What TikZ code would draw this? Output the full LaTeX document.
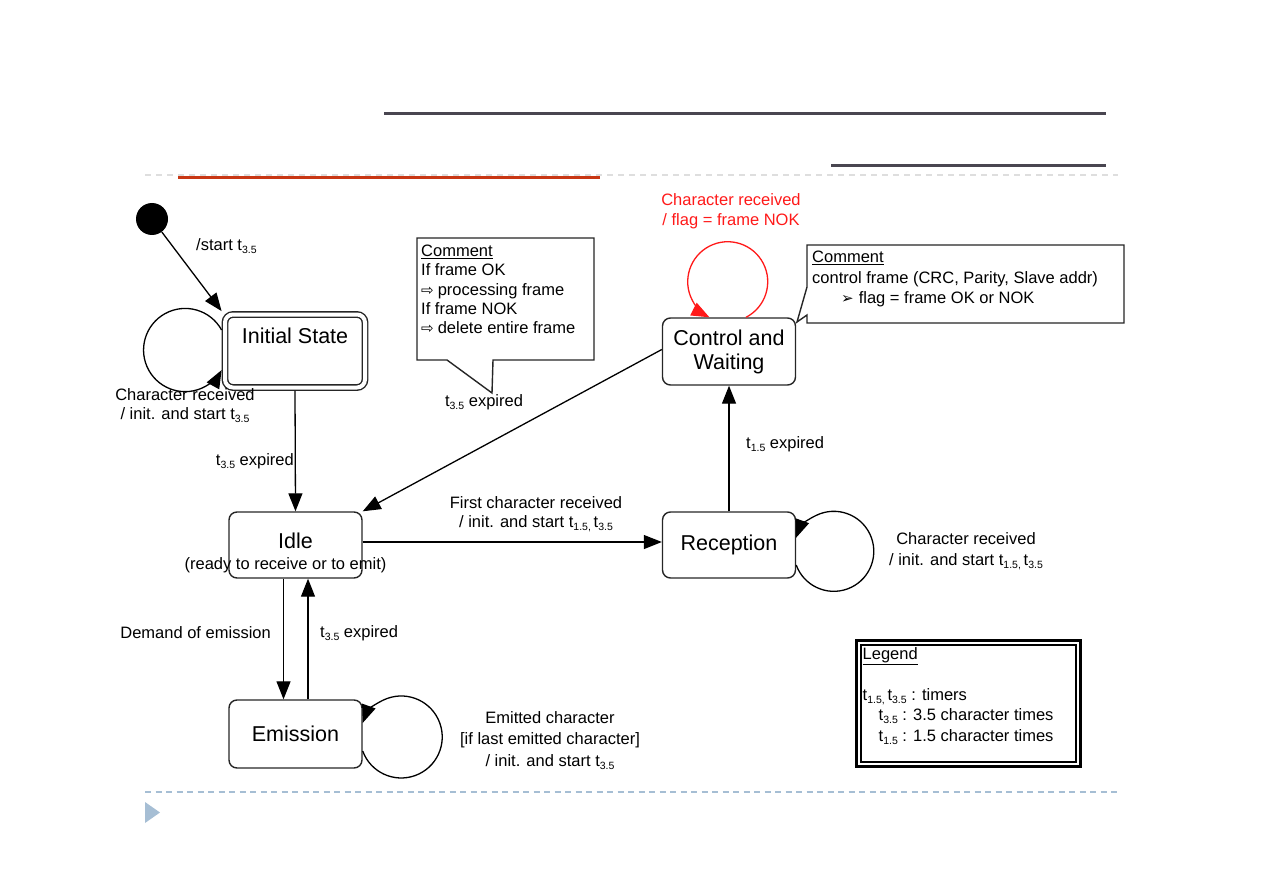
\documentclass[tikz,border=0pt]{standalone}
\usepackage{fontspec}
\setmainfont{Liberation Sans}
\newfontfamily\symb{DejaVu Sans}
\usetikzlibrary{arrows.meta}
\newcommand{\tsub}[1]{t\raisebox{-0.35ex}{\fontsize{10.5}{10.5}\selectfont #1}}
\definecolor{barre}{RGB}{73,70,80}
\definecolor{rouille}{RGB}{200,55,20}
\definecolor{gristrait}{RGB}{222,222,222}
\definecolor{bleupale}{RGB}{166,190,212}
\definecolor{rougevif}{RGB}{255,25,25}
\begin{document}
\begin{tikzpicture}[x=1pt,y=-1pt]
	% Styles des etats et des transitions
	\tikzset{
		etat/.style={draw=black!85, rounded corners=8pt, line width=1.4pt, minimum width=133pt, minimum height=66pt, inner sep=0pt, align=center, font=\fontsize{21.5}{24}\selectfont},
		trans/.style={line width=1.3pt, -{Triangle[length=18pt,width=14pt]}},
		lbl/.style={inner sep=0pt, align=center, font=\fontsize{16.5}{20}\selectfont},
		note/.style={draw=black!85, line width=1.4pt, fill=white, line join=miter}
	}
	\useasboundingbox (0,0) rectangle (1263,893);
	% Bandeau de la diapositive
	\draw[barre, line width=3pt] (384,114) -- (1106,114);
	\draw[barre, line width=3pt] (831,166) -- (1106,166);
	\draw[gristrait, line width=1.5pt, dash pattern=on 6pt off 5pt] (145,175) -- (1118,175);
	\draw[rouille, line width=2.5pt] (178,177.5) -- (600,177.5);
	\draw[bleupale, line width=1.5pt, dash pattern=on 6pt off 4.5pt] (145,792) -- (1118,792);
	\fill[bleupale] (145,802) -- (160,812.5) -- (145,823) -- cycle;
	% Etats
	\node[circle, fill=black, minimum size=32pt, inner sep=0pt] (debut) at (152,219) {};
	\node[etat, double, double distance=4pt, minimum width=140pt, minimum height=73pt, outer sep=3.4pt, text height=16pt, text depth=31pt] (init) at (295,351) {Initial State};
	\node[etat, text depth=8pt] (idle) at (295.5,545) {Idle};
	\node[lbl, anchor=base] (idledet) at ([xshift=-10pt,yshift=-24pt]idle.center) {(ready to receive or to emit)};
	\node[etat, minimum height=67pt] (ctrl) at (729,351.5) {Control and\\Waiting};
	\node[etat] (recep) at (729,545) {Reception};
	\node[etat, minimum height=68pt] (emis) at (295.5,734) {Emission};
	% Commentaires
	\draw[note] (417,238) -- (594,238) -- (594,360) -- (493,360) -- (492,393) -- (447,360) -- (417,360) -- cycle;
	\node[anchor=north west, inner sep=0pt, align=left, font=\fontsize{16.5}{19.25}\selectfont] (com1) at (421,245)
		{\underline{Comment}\\If frame OK\\{\symb\fontsize{15}{15}\selectfont ⇨}\hspace{4pt}processing frame\\If frame NOK\\{\symb\fontsize{15}{15}\selectfont ⇨}\hspace{4pt}delete entire frame};
	\node[lbl] (com1t) at (484,402) {\tsub{3.5} expired};
	\draw[note] (807,245) -- (1124,245) -- (1124,323) -- (807,323) -- (807,315) -- (797,322) -- (807,287) -- cycle;
	\node[anchor=north west, inner sep=0pt, align=left, font=\fontsize{16.5}{20.5}\selectfont] (com2) at (812,251)
		{\underline{Comment}\\control frame (CRC, Parity, Slave addr)\\\hspace*{29pt}{\symb\fontsize{15}{15}\selectfont ➢}\hspace{5pt}flag = frame OK or NOK};
	% Transitions
	\draw[trans] (debut) -- (init.north west);
	\node[lbl, anchor=west] (lstart) at (196,246) {/start \tsub{3.5}};
	\draw[trans] ([yshift=21pt]init.west) arc[start angle=-28.8, end angle=-331.2, radius=41.6];
	\node[lbl, font=\fontsize{16.5}{19}\selectfont] (linit) at (185,406) {Character received\\/ init. and start \tsub{3.5}};
	\draw[trans] (init.south) -- (idle.north);
	\node[lbl, anchor=east] (lexp1) at (294,461) {\tsub{3.5} expired};
	\draw[trans] ([yshift=2pt]ctrl.west) -- (idle.north east);
	\draw[trans] ([yshift=3pt]idle.east) -- ([yshift=3pt]recep.west);
	\node[lbl, font=\fontsize{16.5}{18.5}\selectfont] (lfirst) at (536,514) {First character received\\/ init. and start \tsub{1.5,}\,\tsub{3.5}};
	\draw[trans] (recep.north) -- (ctrl.south);
	\node[lbl, anchor=west] (lexp2) at (746,444) {\tsub{1.5} expired};
	\draw[trans] ([yshift=-20pt]recep.east) arc[start angle=160, end angle=-160, radius=40];
	\node[lbl, font=\fontsize{16.5}{21}\selectfont] (lrecep) at (966,551) {Character received\\/ init. and start \tsub{1.5,}\,\tsub{3.5}};
	\draw[trans, rougevif] ([xshift=17pt]ctrl.north) arc[start angle=62.8, end angle=-242.8, radius=40];
	\node[lbl, text=rougevif, font=\fontsize{16.5}{20.5}\selectfont] (lctrl) at (731,211) {Character received\\/ flag = frame NOK};
	\draw[trans] ([xshift=-12pt]idle.south) -- ([xshift=-12pt]emis.north);
	\node[lbl, anchor=east] (ldem) at (271,633) {Demand of emission};
	\draw[trans] ([xshift=12.5pt]emis.north) -- ([xshift=12.5pt]idle.south);
	\node[lbl, anchor=west] (lexp3) at (320,633) {\tsub{3.5} expired};
	\draw[trans] ([yshift=-17pt]emis.east) arc[start angle=160, end angle=-160, radius=41];
	\node[lbl, font=\fontsize{16.5}{21.7}\selectfont] (lemis) at (550,740.5) {Emitted character\\{[}if last emitted character{]}\\/ init. and start \tsub{3.5}};
	% Legende
	\draw[line width=3pt] (856.5,640.5) rectangle (1080.5,766.5);
	\draw[line width=1.4pt] (861,645) rectangle (1076,762);
	\node[anchor=north west, inner sep=0pt, align=left, font=\fontsize{16.5}{20.5}\selectfont] (leg) at (862.5,647)
		{\underline{Legend}\\[20.5pt]\tsub{1.5,}\,\tsub{3.5} : timers\\\hspace*{16pt}\tsub{3.5} : 3.5 character times\\\hspace*{16pt}\tsub{1.5} : 1.5 character times};
\end{tikzpicture}
\end{document}
